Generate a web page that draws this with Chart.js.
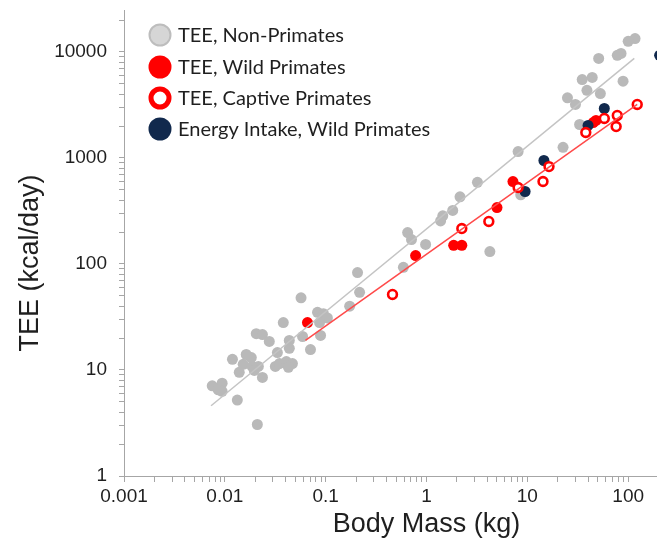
<!DOCTYPE html>
<html>
<head>
<meta charset="utf-8">
<script src="https://cdn.jsdelivr.net/npm/chart.js@4/dist/chart.umd.min.js"></script>
<style>
  html, body { margin: 0; padding: 0; background: #ffffff; overflow: hidden; }
  #wrap { width: 657px; height: 550px; overflow: hidden; position: relative; }
  #c { display: block; }
</style>
</head>
<body>
<div id="wrap"><canvas id="c" width="736" height="550"></canvas></div>
<script>
// ---------- data ----------
const nonPrimateMass = [117, 100, 85, 78, 51, 89, 35, 44, 39, 53, 25, 30, 33, 22.6, 8.1, 3.2, 2.15, 1.82, 1.45, 1.38,
  0.65, 0.71, 0.98, 4.25, 8.6, 0.59, 0.207, 0.217, 0.173, 0.057, 0.083, 0.095, 0.104, 0.087, 0.038, 0.059, 0.089,
  0.0205, 0.0236, 0.0276, 0.0436, 0.0436, 0.0707, 0.0332, 0.0119, 0.0163, 0.0183, 0.0152, 0.0187, 0.0215, 0.0196,
  0.0317, 0.0348, 0.0407, 0.0468, 0.0427, 0.0139, 0.0236, 0.0075, 0.0094, 0.0086, 0.0094, 0.0133, 0.021];
const nonPrimateTEE = [13400, 12600, 9700, 9300, 8700, 5300, 5500, 5750, 4350, 4050, 3700, 3200, 2070, 1260, 1150, 590, 430, 320, 285, 255,
  198, 170, 153, 131, 450, 93, 83, 54, 40, 48, 35, 34, 31, 28, 28, 20.7, 21.2,
  22, 21.6, 18.6, 19, 16, 15.6, 14.6, 12.6, 14, 13.1, 11.3, 10.8, 10.8, 9.9,
  10.8, 11.5, 12, 11.5, 10.6, 9.5, 8.5, 7.1, 7.5, 6.5, 6.3, 5.2, 3.06];

const wildMass = [48, 45, 7.2, 5.0, 1.86, 2.24, 0.78, 0.066];
const wildTEE  = [2260, 2160, 600, 341, 150, 150, 120, 28];

const captiveMass = [123, 78, 76, 58, 38, 16.4, 14.3, 8.1, 4.15, 2.24, 0.46];
const captiveTEE  = [3200, 2520, 1980, 2360, 1740, 830, 600, 527, 252, 216, 51.6];

const intakeMass = [205, 58, 40, 14.6, 9.5];
const intakeKcal = [9300, 2930, 2030, 947, 483];

// fitted regression lines (end points)
const nonPrimateFitMass = [0.0073, 115];
const nonPrimateFitTEE  = [4.6, 8700];
const primateFitMass = [0.063, 123];
const primateFitTEE  = [19, 3200];

const legendLabels = ['TEE, Non-Primates', 'TEE, Wild Primates', 'TEE, Captive Primates', 'Energy Intake, Wild Primates'];
const xTickValues = [0.001, 0.01, 0.1, 1, 10, 100];
const xTickLabels = ['0.001', '0.01', '0.1', '1', '10', '100'];
const yTickValues = [1, 10, 100, 1000, 10000];
const yTickLabels = ['1', '10', '100', '1000', '10000'];
const xTitle = 'Body Mass (kg)';
const yTitle = 'TEE (kcal/day)';

// ---------- helpers ----------
const pts = (xs, ys) => xs.map((x, i) => ({ x: x, y: ys[i] }));
function logTicks(min, max) {
  const out = [];
  const e0 = Math.floor(Math.log10(min)), e1 = Math.ceil(Math.log10(max));
  for (let e = e0; e <= e1; e++) {
    for (let k = 1; k <= 9; k++) {
      const v = parseFloat((k * Math.pow(10, e)).toPrecision(6));
      if (v >= min * 0.9999 && v <= max * 1.0001) out.push({ value: v });
    }
  }
  return out;
}
function labelFor(v, vals, labels) {
  for (let i = 0; i < vals.length; i++) {
    if (Math.abs(v - vals[i]) / vals[i] < 1e-6) return labels[i];
  }
  return '';
}

const AXIS_COLOR = '#a6a6a6';
const TEXT_COLOR = '#1f1f1f';
const GRAY = '#b9b9b9';
const RED = '#ff0000';
const NAVY = '#11294d';

const legendPlugin = {
  id: 'insideLegend',
  afterDraw(chart) {
    const ctx = chart.ctx;
    const rows = [
      { fill: '#d6d6d6', stroke: '#bdbdbd', lw: 2, y: 35 },
      { fill: RED, stroke: RED, lw: 0, y: 67 },
      { fill: '#ffffff', stroke: RED, lw: 5, y: 98 },
      { fill: NAVY, stroke: NAVY, lw: 0, y: 129 }
    ];
    ctx.save();
    ctx.font = '20px Lato, "Open Sans", sans-serif';
    ctx.textBaseline = 'middle';
    ctx.textAlign = 'left';
    rows.forEach((r, i) => {
      const cx = 160, rad = 11.5;
      ctx.beginPath();
      ctx.arc(cx, r.y, r.lw ? rad - r.lw / 2 : rad, 0, Math.PI * 2);
      ctx.fillStyle = r.fill;
      ctx.fill();
      if (r.lw) { ctx.lineWidth = r.lw; ctx.strokeStyle = r.stroke; ctx.stroke(); }
      ctx.fillStyle = TEXT_COLOR;
      ctx.fillText(legendLabels[i], 178, r.y + 1);
    });
    ctx.restore();
  }
};

const yTitlePlugin = {
  id: 'yTitle',
  afterDraw(chart) {
    const ctx = chart.ctx;
    ctx.save();
    ctx.translate(31, 263);
    ctx.rotate(-Math.PI / 2);
    ctx.font = '27px "Liberation Sans", Arial, sans-serif';
    ctx.fillStyle = TEXT_COLOR;
    ctx.textAlign = 'center';
    ctx.textBaseline = 'middle';
    ctx.fillText(yTitle, 0, 0);
    ctx.restore();
  }
};

new Chart(document.getElementById('c'), {
  type: 'scatter',
  data: {
    datasets: [
      { label: 'Non-primate fit', data: pts(nonPrimateFitMass, nonPrimateFitTEE), showLine: true,
        borderColor: '#c4c4c4', borderWidth: 1.5, pointRadius: 0, order: 0 },
      { label: 'Primate fit', data: pts(primateFitMass, primateFitTEE), showLine: true,
        borderColor: '#ff4a4a', borderWidth: 1.5, pointRadius: 0, order: 1 },
      { label: legendLabels[3], data: pts(intakeMass, intakeKcal), backgroundColor: NAVY, borderColor: NAVY,
        borderWidth: 0, pointRadius: 5.5, order: 3 },
      { label: legendLabels[2], data: pts(captiveMass, captiveTEE), backgroundColor: '#ffffff', borderColor: RED,
        borderWidth: 2.6, pointRadius: 4.4, order: 2 },
      { label: legendLabels[1], data: pts(wildMass, wildTEE), backgroundColor: RED, borderColor: RED,
        borderWidth: 0, pointRadius: 5.5, order: 4 },
      { label: legendLabels[0], data: pts(nonPrimateMass, nonPrimateTEE), backgroundColor: GRAY, borderColor: GRAY,
        borderWidth: 0, pointRadius: 5.5, order: 5 }
    ]
  },
  options: {
    responsive: false,
    animation: false,
    layout: { padding: { top: 10, left: 0, right: 0, bottom: 0 } },
    plugins: { legend: { display: false }, tooltip: { enabled: false } },
    scales: {
      x: {
        type: 'logarithmic', position: 'bottom', min: 0.001, max: 1000,
        afterBuildTicks: s => { s.ticks = logTicks(0.001, 1000); },
        afterFit: s => { s.height = 74; s.paddingLeft = 0; s.paddingRight = 0; },
        grid: { display: true, drawOnChartArea: false, drawTicks: true, tickLength: 6, color: AXIS_COLOR },
        border: { display: true, color: AXIS_COLOR, width: 1 },
        ticks: {
          autoSkip: false, maxRotation: 0, minRotation: 0, padding: 3, color: TEXT_COLOR,
          font: { family: '"Liberation Sans", Arial, sans-serif', size: 19 },
          callback: v => labelFor(v, xTickValues, xTickLabels)
        },
        title: { display: true, text: xTitle, color: TEXT_COLOR, padding: { top: 0, bottom: 9 },
          font: { family: '"Liberation Sans", Arial, sans-serif', size: 27 } }
      },
      y: {
        type: 'logarithmic', position: 'left', min: 1, max: 24900,
        afterBuildTicks: s => { s.ticks = logTicks(1, 20000); },
        afterFit: s => { s.width = 124; s.paddingTop = 0; s.paddingBottom = 0; },
        grid: { display: true, drawOnChartArea: false, drawTicks: true, tickLength: 5, color: AXIS_COLOR },
        border: { display: true, color: AXIS_COLOR, width: 1 },
        ticks: {
          autoSkip: false, padding: 12, color: TEXT_COLOR,
          font: { family: '"Liberation Sans", Arial, sans-serif', size: 19 },
          callback: v => labelFor(v, yTickValues, yTickLabels)
        },
        title: { display: false }
      }
    }
  },
  plugins: [legendPlugin, yTitlePlugin]
});
</script>
</body>
</html>
